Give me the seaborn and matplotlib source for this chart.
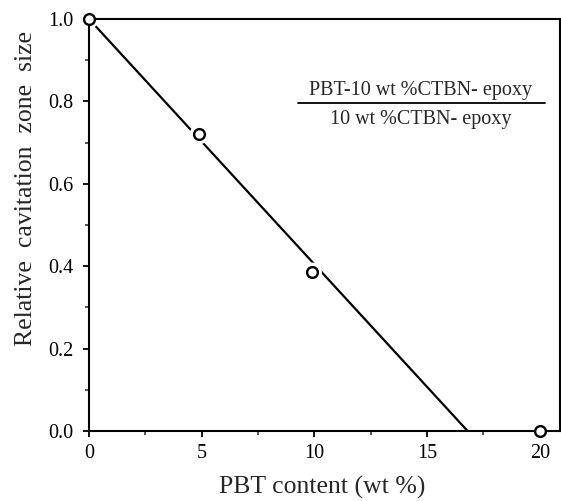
import matplotlib
matplotlib.use("Agg")
import matplotlib.pyplot as plt
import seaborn as sns
import pandas as pd
from matplotlib.ticker import MultipleLocator

# Data
pbt_content = [0.0, 4.9, 9.9, 20.0]
rel_zone_size = [1.0, 0.72, 0.385, 0.0]
fit_x = [0.0, 16.8]
fit_y = [1.0, 0.0]
x_ticks = [0, 5, 10, 15, 20]
y_ticks = [0.0, 0.2, 0.4, 0.6, 0.8, 1.0]

sns.set_theme(style="ticks")
plt.rcParams['font.family'] = ['Liberation Serif', 'DejaVu Serif']

fig = plt.figure(figsize=(5.61, 5.01), dpi=100)
ax = fig.add_axes([89/561, 1 - 431/501, (560 - 89)/561, (431 - 19)/501])

pts = pd.DataFrame({"x": pbt_content, "y": rel_zone_size})
fit = pd.DataFrame({"x": fit_x, "y": fit_y})

sns.lineplot(data=fit, x="x", y="y", ax=ax, color="black", linewidth=1.6, zorder=1)
# white masks creating gaps in the line around the markers
mask = pts.iloc[:3]
ax.scatter(mask["x"], mask["y"], s=200, color="white", edgecolors="none", zorder=1.5, clip_on=False)
sns.scatterplot(data=pts, x="x", y="y", ax=ax, marker="o", s=60, facecolor="white",
                edgecolor="black", linewidth=1.7, zorder=3, clip_on=False)

ax.set_xlim(0, 20.9)
ax.set_ylim(0, 1.0)
ax.set_xticks(x_ticks)
ax.set_xticklabels([str(t) for t in x_ticks])
ax.set_yticks(y_ticks)
ax.set_yticklabels([f"{t:.1f}" for t in y_ticks])
ax.xaxis.set_minor_locator(MultipleLocator(2.5))
ax.yaxis.set_minor_locator(MultipleLocator(0.1))
ax.tick_params(which="major", direction="out", length=4, width=1.3, labelsize=14.5, colors="black")
ax.tick_params(axis="y", which="major", pad=7)
ax.tick_params(axis="x", which="major", pad=5)
ax.tick_params(which="minor", direction="out", length=3, width=1.1)

for s in ax.spines.values():
    s.set_visible(True)
    s.set_linewidth(1.5)
    s.set_color("black")

ax.set_xlabel("PBT content (wt %)", fontsize=18.5)
ax.xaxis.set_label_coords((322 - 89) / 471, -(476 - 431) / 412)
ax.set_ylabel("Relative  cavitation  zone  size", fontsize=18.5)
ax.yaxis.set_label_coords(-(89 - 37) / 471, (431 - 188) / 412)

# annotation fraction
ax.text(14.72, 0.826, "PBT-10 wt %CTBN- epoxy", fontsize=14.5, ha="center", va="center")
ax.plot([9.27, 20.22], [0.796, 0.796], color="black", linewidth=1.3)
ax.text(14.72, 0.757, "10 wt %CTBN- epoxy", fontsize=14.5, ha="center", va="center")

fig.savefig("out.png", dpi=100)
